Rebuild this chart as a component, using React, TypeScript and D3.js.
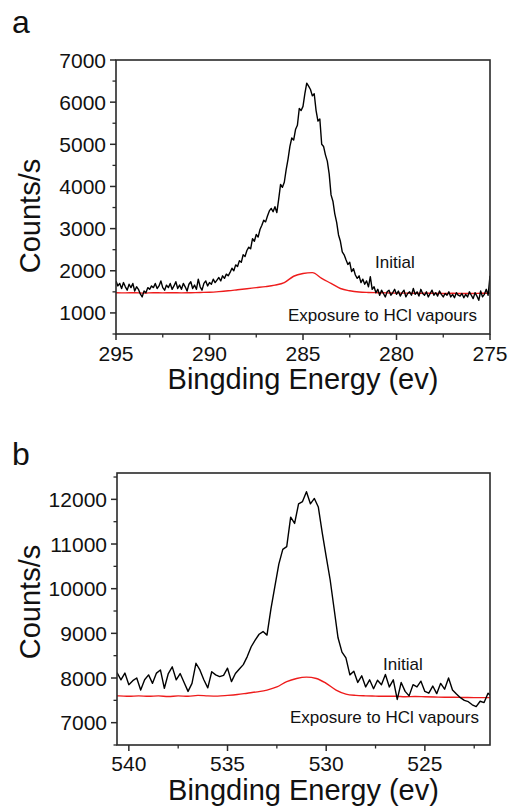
import React from "react";
import * as d3 from "d3";

// ---------- Panel a data (C 1s region) ----------
const energyStartA = 295;
const energyStepA = 0.1;
const initialA = [
  1760, 1640, 1700, 1580, 1720, 1620, 1540, 1680, 1600, 1700,
  1520, 1620, 1560, 1450, 1380, 1520, 1480, 1600, 1560, 1640,
  1600, 1700, 1580, 1640, 1760, 1600, 1540, 1660, 1600, 1700,
  1560, 1640, 1740, 1580, 1660, 1560, 1700, 1620, 1520, 1680,
  1740, 1580, 1660, 1560, 1800, 1620, 1540, 1700, 1760, 1640,
  1720, 1680, 1800, 1720, 1780, 1840, 1760, 1880, 1820, 1920,
  1880, 1960, 2060, 2000, 2140, 2100, 2240, 2200, 2380, 2340,
  2480, 2560, 2520, 2760, 2700, 2860, 2800, 2980, 3080, 3200,
  3160, 3300, 3420, 3480, 3400, 3520, 3380, 3700, 4050, 3980,
  4100, 4400, 4650, 4950, 5150, 5100, 5350, 5450, 5850, 5800,
  5900, 6200, 6450, 6380, 6300, 6150, 6200, 5800, 5550, 5600,
  5000, 4950, 4750, 4600, 4300, 3800, 3650, 3350, 3150, 2850,
  2700, 2450, 2380, 2260, 2150, 2200, 1980, 2050, 1900, 1820,
  1880, 1720, 1800, 1680, 1760, 1620, 1860, 1560, 1620, 1480,
  1560, 1420, 1540, 1460, 1380, 1500, 1540, 1420, 1480, 1560,
  1440, 1520, 1400, 1480, 1540, 1380, 1460, 1500, 1420, 1580,
  1440, 1500, 1400, 1560, 1460, 1420, 1500, 1380, 1460, 1540,
  1420, 1480, 1400, 1520, 1440, 1380, 1460, 1420, 1500, 1380,
  1440, 1360, 1480, 1420, 1400, 1460, 1360, 1440, 1380, 1500,
  1420, 1340, 1480, 1400, 1300, 1520, 1380, 1440, 1560, 1420,
  1880,
];
const hclStartA = 295;
const hclStepA = 0.5;
const hclA = [
  1480, 1475, 1480, 1470, 1480, 1475, 1480, 1475, 1480, 1485,
  1490, 1505, 1525, 1550, 1575, 1600, 1625, 1660, 1720, 1870,
  1935, 1955, 1820, 1700, 1580, 1525, 1495, 1485, 1480, 1475,
  1470, 1470, 1465, 1470, 1465, 1460, 1465, 1460, 1460, 1465,
  1470,
];
const xTicksA = [295, 290, 285, 280, 275];
const xMinorA = [292.5, 287.5, 282.5, 277.5];
const yTicksA = [1000, 2000, 3000, 4000, 5000, 6000, 7000];
const yMinorA = [500, 1500, 2500, 3500, 4500, 5500, 6500];

// ---------- Panel b data (O 1s region) ----------
const energyStartB = 540.6;
const energyStepB = 0.2;
const initialB = [
  8120, 7960, 8110, 7850, 7940, 8000, 7730, 7960, 8070, 7880,
  8110, 8180, 7770, 8100, 8250, 7960, 8100, 7900, 7700, 7880,
  8330, 8180, 7960, 7780, 8140, 8070, 8030, 8060, 8220, 7920,
  8100, 8200, 8300, 8480, 8700, 8850, 8980, 9040, 8960, 9550,
  10050, 10550, 10880, 10940, 11600, 11460, 11900, 11950, 12170, 11900,
  12020, 11830, 11250, 10720, 10200, 9550, 8900, 8580, 8450, 8070,
  8150, 7900, 8050, 7800, 7960, 7760, 7950, 7850, 8080, 7800,
  7960, 7520, 7900, 7700, 7600, 7850, 7800, 7930, 7700, 7660,
  7820, 7650, 7880, 7750, 8000, 7730, 7640, 7560, 7500, 7470,
  7400, 7360, 7480, 7450, 7660, 7580,
];
const hclStartB = 541;
const hclStepB = 0.5;
const hclB = [
  7600,
  7600, 7590, 7600, 7590, 7600, 7585, 7600, 7590, 7610, 7600,
  7595, 7610, 7630, 7660, 7690, 7730, 7800, 7920, 7990, 8020,
  7990, 7880, 7730, 7640, 7610, 7600, 7595, 7590, 7590, 7580,
  7585, 7580, 7575, 7570, 7570, 7565, 7560, 7560, 7560,
];
const xTicksB = [540, 535, 530, 525];
const xMinorB = [537.5, 532.5, 527.5, 522.5];
const yTicksB = [7000, 8000, 9000, 10000, 11000, 12000];
const yMinorB = [6500, 7500, 8500, 9500, 10500, 11500, 12500];

const FONT = "'Liberation Sans', Arial, Helvetica, sans-serif";

type Pt = { e: number; c: number };
const toPts = (start: number, step: number, vals: number[]): Pt[] =>
  vals.map((c, i) => ({ e: start - i * step, c }));

interface PanelProps {
  id: string;
  left: number;
  right: number;
  top: number;
  bottom: number;
  xDomain: [number, number];
  yDomain: [number, number];
  xTicks: number[];
  xMinor: number[];
  yTicks: number[];
  yMinor: number[];
  initial: Pt[];
  hcl: Pt[];
  letter: string;
  letterY: number;
  initialLabel: [number, number];
  hclLabel: [number, number];
  yTitleY: number;
  xTickLabelY: number;
  xTitleY: number;
}

function Panel(p: PanelProps) {
  const x = d3.scaleLinear().domain(p.xDomain).range([p.left, p.right]);
  const y = d3.scaleLinear().domain(p.yDomain).range([p.bottom, p.top]);
  const line = d3
    .line<Pt>()
    .x((d) => x(d.e))
    .y((d) => y(d.c));
  const smooth = d3
    .line<Pt>()
    .x((d) => x(d.e))
    .y((d) => y(d.c))
    .curve(d3.curveMonotoneX);
  const axisColor = "#2a2a2a";
  return (
    <g>
      <defs>
        <clipPath id={`clip-${p.id}`}>
          <rect
            x={p.left}
            y={p.top}
            width={p.right - p.left}
            height={p.bottom - p.top}
          />
        </clipPath>
      </defs>
      <text x={12} y={p.letterY} fontSize={32} fontFamily={FONT} fill="#111">
        {p.letter}
      </text>
      <g clipPath={`url(#clip-${p.id})`}>
        <path
          d={smooth(p.hcl) || ""}
          fill="none"
          stroke="#ee1c1c"
          strokeWidth={1.4}
        />
        <path
          d={line(p.initial) || ""}
          fill="none"
          stroke="#000"
          strokeWidth={1.4}
          strokeLinejoin="round"
        />
      </g>
      <rect
        x={p.left}
        y={p.top}
        width={p.right - p.left}
        height={p.bottom - p.top}
        fill="none"
        stroke={axisColor}
        strokeWidth={1.6}
      />
      {p.yTicks.map((t) => (
        <g key={`yt${t}`}>
          <line
            x1={p.left - 6}
            x2={p.left}
            y1={y(t)}
            y2={y(t)}
            stroke={axisColor}
            strokeWidth={1.5}
          />
          <text
            x={p.left - 10}
            y={y(t)}
            dy="0.36em"
            textAnchor="end"
            fontSize={21}
            fontFamily={FONT}
            fill="#111"
          >
            {t}
          </text>
        </g>
      ))}
      {p.yMinor
        .filter((t) => y(t) >= p.top - 0.5 && y(t) <= p.bottom + 0.5)
        .map((t) => (
          <line
            key={`ym${t}`}
            x1={p.left - 3.5}
            x2={p.left}
            y1={y(t)}
            y2={y(t)}
            stroke={axisColor}
            strokeWidth={1.3}
          />
        ))}
      {p.xTicks.map((t) => (
        <g key={`xt${t}`}>
          <line
            x1={x(t)}
            x2={x(t)}
            y1={p.bottom}
            y2={p.bottom + 6}
            stroke={axisColor}
            strokeWidth={1.5}
          />
          <text
            x={x(t)}
            y={p.xTickLabelY}
            textAnchor="middle"
            fontSize={21}
            fontFamily={FONT}
            fill="#111"
          >
            {t}
          </text>
        </g>
      ))}
      {p.xMinor.map((t) => (
        <line
          key={`xm${t}`}
          x1={x(t)}
          x2={x(t)}
          y1={p.bottom}
          y2={p.bottom + 3.5}
          stroke={axisColor}
          strokeWidth={1.3}
        />
      ))}
      <text
        x={(p.left + p.right) / 2}
        y={p.xTitleY}
        textAnchor="middle"
        fontSize={29}
        fontFamily={FONT}
        fill="#111"
      >
        Bingding Energy (ev)
      </text>
      <text
        transform={`translate(40,${p.yTitleY}) rotate(-90)`}
        textAnchor="middle"
        fontSize={29}
        fontFamily={FONT}
        fill="#111"
      >
        Counts/s
      </text>
      <text
        x={p.initialLabel[0]}
        y={p.initialLabel[1]}
        fontSize={17}
        fontFamily={FONT}
        fill="#111"
      >
        Initial
      </text>
      <text
        x={p.hclLabel[0]}
        y={p.hclLabel[1]}
        fontSize={17}
        fontFamily={FONT}
        fill="#111"
      >
        Exposure to HCl vapours
      </text>
    </g>
  );
}

export default function App() {
  return (
    <svg
      width={510}
      height={807}
      style={{ position: "absolute", left: 0, top: 0, background: "#fff" }}
    >
      <rect x={0} y={0} width={510} height={807} fill="#fff" />
      <Panel
        id="a"
        left={116}
        right={490}
        top={60}
        bottom={334}
        xDomain={[295, 275]}
        yDomain={[500, 7000]}
        xTicks={xTicksA}
        xMinor={xMinorA}
        yTicks={yTicksA}
        yMinor={yMinorA}
        initial={toPts(energyStartA, energyStepA, initialA)}
        hcl={toPts(hclStartA, hclStepA, hclA)}
        letter="a"
        letterY={33}
        initialLabel={[375, 268]}
        hclLabel={[288, 321]}
        yTitleY={216}
        xTickLabelY={361}
        xTitleY={389}
      />
      <Panel
        id="b"
        left={117}
        right={490}
        top={473}
        bottom={745}
        xDomain={[540.6, 521.7]}
        yDomain={[6500, 12590]}
        xTicks={xTicksB}
        xMinor={xMinorB}
        yTicks={yTicksB}
        yMinor={yMinorB}
        initial={toPts(energyStartB, energyStepB, initialB)}
        hcl={toPts(hclStartB, hclStepB, hclB)}
        letter="b"
        letterY={465}
        initialLabel={[383, 670]}
        hclLabel={[290, 723]}
        yTitleY={602}
        xTickLabelY={771}
        xTitleY={800}
      />
    </svg>
  );
}
